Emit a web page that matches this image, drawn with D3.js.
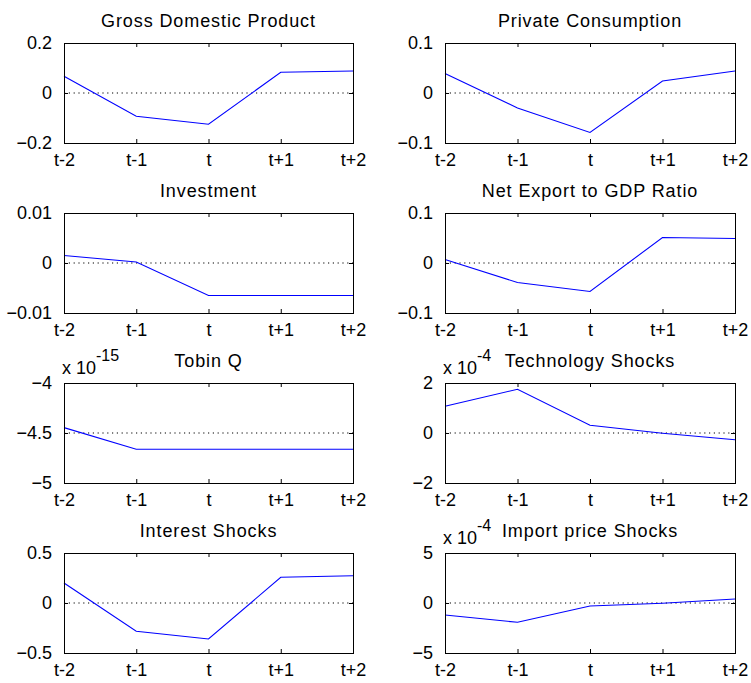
<!DOCTYPE html>
<html>
<head>
<meta charset="utf-8">
<script src="https://cdn.jsdelivr.net/npm/d3@7"></script>
<style>
  html, body { margin: 0; padding: 0; background: #fff; }
  svg text { font-family: "Liberation Sans", Arial, Helvetica, sans-serif; fill: #000; }
</style>
</head>
<body>
<svg id="chart" width="751" height="683"></svg>
<script>
// Horizon labels shared by every panel
const periods = ["t-2", "t-1", "t", "t+1", "t+2"];

// Panel titles, in reading order (row by row, left to right)
const titles = [
  "Gross Domestic Product", "Private Consumption",
  "Investment", "Net Export to GDP Ratio",
  "Tobin Q", "Technology Shocks",
  "Interest Shocks", "Import price Shocks"
];

// Series values (Tobin Q in units of 1e-15, the two shock series in units of 1e-4)
const gdp          = [0.067, -0.093, -0.125, 0.083, 0.088];
const consumption  = [0.039, -0.030, -0.079, 0.024, 0.044];
const investment   = [0.0015, 0.0002, -0.0065, -0.0065, -0.0065];
const netExport    = [0.007, -0.039, -0.057, 0.051, 0.049];
const tobinQ       = [-4.446, -4.663, -4.663, -4.663, -4.663];
const technology   = [1.07, 1.75, 0.31, -0.01, -0.27];
const interest     = [0.20, -0.283, -0.36, 0.257, 0.273];
const importPrice  = [-1.2, -1.93, -0.3, -0.03, 0.4];

const series = [gdp, consumption, investment, netExport, tobinQ, technology, interest, importPrice];

// Y-axis tick values (bottom, middle, top) for each panel
const yTicks = [
  [-0.2, 0, 0.2], [-0.1, 0, 0.1],
  [-0.01, 0, 0.01], [-0.1, 0, 0.1],
  [-5, -4.5, -4], [-2, 0, 2],
  [-0.5, 0, 0.5], [-5, 0, 5]
];

// Level of the dotted reference line in each panel
const refLevels = [0, 0, 0, 0, -4.5, 0, 0, 0];

// Power-of-ten multiplier shown above the axis (null when none)
const exponents = [null, null, null, null, "-15", "-4", null, "-4"];

// ---- layout ----
const svg = d3.select("#chart");
const colLeft = [64, 445];
const plotW = [289, 290];
const rowTop = [43, 213, 383, 553];
const plotH = 100;
const fontSize = 18;

series.forEach((values, i) => {
  const col = i % 2, row = Math.floor(i / 2);
  const x0 = colLeft[col], y0 = rowTop[row], w = plotW[col];
  const ticks = yTicks[i];

  const x = d3.scalePoint().domain(periods).range([0, w]);
  const y = d3.scaleLinear().domain([ticks[0], ticks[ticks.length - 1]]).range([plotH, 0]);

  const g = svg.append("g").attr("transform", `translate(${x0},${y0})`);

  // Dotted reference line
  g.append("line")
    .attr("x1", 0).attr("x2", w)
    .attr("y1", y(refLevels[i])).attr("y2", y(refLevels[i]))
    .attr("stroke", "#000").attr("stroke-width", 1.2)
    .attr("stroke-dasharray", "1.2,3.6");

  // Series line
  const line = d3.line().x((d, k) => x(periods[k])).y(d => y(d));
  g.append("path")
    .datum(values)
    .attr("d", line)
    .attr("fill", "none")
    .attr("stroke", "#0000ff")
    .attr("stroke-width", 1.1);

  // Axes: ticks point inward on all four sides
  const tickLen = 4;
  const axBottom = d3.axisBottom(x).tickSize(-tickLen).tickPadding(10);
  const axTop = d3.axisTop(x).tickSize(-tickLen).tickFormat("");
  const axLeft = d3.axisLeft(y).tickValues(ticks).tickSize(-tickLen).tickPadding(12)
    .tickFormat(d3.format(""));
  const axRight = d3.axisRight(y).tickValues(ticks).tickSize(-tickLen).tickFormat("");

  const styleAxis = sel => {
    sel.select(".domain").remove();
    sel.selectAll(".tick line").attr("stroke", "#000").attr("stroke-width", 1);
    sel.selectAll(".tick text").attr("font-size", fontSize).attr("fill", "#000")
      .style("font-family", "'Liberation Sans', Arial, sans-serif");
  };

  g.append("g").attr("transform", `translate(0,${plotH})`).call(axBottom).call(styleAxis)
    .selectAll(".tick text").attr("dy", "0.71em");
  g.append("g").call(axTop).call(styleAxis);
  g.append("g").call(axLeft).call(styleAxis);
  g.append("g").attr("transform", `translate(${w},0)`).call(axRight).call(styleAxis);

  // Frame
  g.append("rect")
    .attr("x", 0.5).attr("y", 0.5).attr("width", w).attr("height", plotH)
    .attr("fill", "none").attr("stroke", "#000").attr("stroke-width", 1);

  // Title
  g.append("text")
    .attr("x", w / 2).attr("y", -16)
    .attr("text-anchor", "middle")
    .attr("font-size", fontSize)
    .attr("letter-spacing", "0.9px")
    .text(titles[i]);

  // Multiplier label
  if (exponents[i]) {
    const t = g.append("text").attr("x", -2).attr("y", -9).attr("font-size", fontSize);
    t.append("tspan").text("x 10");
    t.append("tspan").attr("dy", -13).attr("font-size", 16).text(exponents[i]);
  }
});
</script>
</body>
</html>
